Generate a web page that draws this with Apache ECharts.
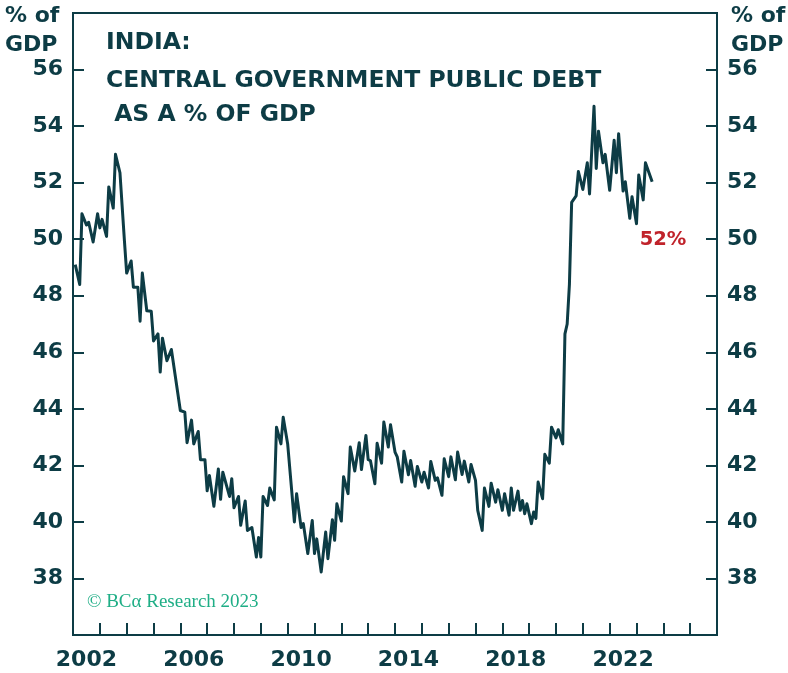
<!DOCTYPE html>
<html>
<head>
<meta charset="utf-8">
<script src="https://cdn.jsdelivr.net/npm/echarts@6/dist/echarts.min.js"></script>
<style>
html,body{margin:0;padding:0;background:#fff;}
#chart{width:788px;height:673px;}
</style>
</head>
<body>
<div id="chart"></div>
<script>
// Month of each observation (YYYY-MM)
const dates = [
'2002-02','2002-04','2002-05','2002-07','2002-08','2002-10','2002-12',
'2003-01','2003-02','2003-04','2003-05','2003-07','2003-08','2003-10','2003-12',
'2004-01','2004-03','2004-04','2004-06','2004-07','2004-08','2004-10','2004-12',
'2005-01','2005-03','2005-04','2005-05','2005-07','2005-09',
'2006-01','2006-03','2006-04','2006-06','2006-07','2006-09','2006-10','2006-12',
'2007-01','2007-02','2007-04','2007-06','2007-07','2007-08','2007-11','2007-12',
'2008-01','2008-03','2008-04','2008-06','2008-07','2008-09','2008-11','2008-12',
'2009-01','2009-02','2009-04','2009-05','2009-07','2009-08','2009-10','2009-11',
'2010-01','2010-04','2010-05','2010-07','2010-08','2010-10','2010-12',
'2011-01','2011-02','2011-04','2011-06','2011-07','2011-09','2011-10','2011-11',
'2012-01','2012-02','2012-04','2012-05','2012-07','2012-09','2012-10','2012-12',
'2013-01','2013-02','2013-04','2013-05','2013-07','2013-08','2013-10','2013-11',
'2014-01','2014-02','2014-04','2014-05','2014-07','2014-08','2014-10','2014-11',
'2015-01','2015-02','2015-04','2015-05','2015-07','2015-08','2015-10','2015-11',
'2016-01','2016-02','2016-04','2016-05','2016-07','2016-08','2016-10','2016-11',
'2017-01','2017-02','2017-04','2017-05','2017-07','2017-08','2017-10','2017-11',
'2018-01','2018-02','2018-04','2018-05','2018-06','2018-08','2018-09','2018-10','2018-11','2018-12',
'2019-02','2019-03','2019-04','2019-05','2019-07','2019-08','2019-10','2019-11',
'2020-01','2020-02','2020-04','2020-05','2020-06','2020-07','2020-08','2020-10','2020-11',
'2021-01','2021-03','2021-04','2021-06','2021-07','2021-08','2021-10','2021-11',
'2022-01','2022-03','2022-04','2022-05','2022-07','2022-08','2022-10','2022-11',
'2023-01','2023-02','2023-04','2023-05','2023-08'
];
// Central government public debt, % of GDP
const debt = [
49.1,48.4,50.9,50.5,50.6,49.9,50.9,
50.4,50.7,50.1,51.85,51.1,53.0,52.35,49.94,
48.8,49.23,48.3,48.3,47.1,48.8,47.47,47.45,
46.4,46.65,45.3,46.5,45.7,46.1,
43.94,43.88,42.8,43.6,42.76,43.2,42.2,42.2,
41.1,41.64,40.55,41.87,40.8,41.76,40.9,41.53,
40.5,40.9,39.88,40.74,39.7,39.8,38.76,39.45,
38.76,40.9,40.58,41.2,40.78,43.35,42.76,43.7,
42.76,40.0,41.0,39.8,39.94,38.88,40.05,
38.88,39.4,38.23,39.64,38.7,40.08,39.35,40.64,
40.03,41.6,41.0,42.65,41.8,42.8,41.85,43.06,
42.2,42.17,41.35,42.78,42.08,43.53,42.65,43.44,
42.47,42.3,41.41,42.5,41.67,42.17,41.26,41.96,
41.41,41.76,41.2,42.14,41.47,41.56,40.94,42.23,
41.6,42.3,41.49,42.47,41.68,42.15,41.41,42.03,
41.47,40.41,39.7,41.2,40.55,41.37,40.7,41.14,
40.41,41.0,40.24,41.2,40.41,41.09,40.41,40.76,40.29,40.64,
39.94,40.35,40.12,41.41,40.82,42.39,42.08,43.35,
42.97,43.26,42.76,46.65,47.0,48.4,51.3,51.53,52.39,
51.76,52.7,51.6,54.7,52.5,53.82,52.7,53.0,
51.73,53.5,52.35,53.73,51.7,52.03,50.74,51.5,
50.55,52.27,51.39,52.7,52.03
];
const yearLabels = [2002, 2006, 2010, 2014, 2018, 2022];
const yTickMin = 36, yTickMax = 58, yStep = 2;
const titleLines = ['INDIA:', 'CENTRAL GOVERNMENT PUBLIC DEBT', ' AS A % OF GDP'];
const lastLabel = '52%';

const toYear = s => +s.slice(0, 4) + (+s.slice(5, 7) - 1) / 12;
const seriesData = dates.map((d, i) => [toYear(d), debt[i]]);

const ink = '#0d3c45';
const axisFont = { color: ink, fontFamily: 'DejaVu Sans', fontWeight: 'bold', fontSize: 22 };
const yLab = v => (v === yTickMin || v === yTickMax) ? '' : String(v);

const chart = echarts.init(document.getElementById('chart'), null, { renderer: 'canvas' });
chart.setOption({
  animation: false,
  backgroundColor: '#ffffff',
  grid: { left: 73, right: 71, top: 13, bottom: 38, show: true, borderColor: ink, borderWidth: 2, backgroundColor: 'transparent' },
  xAxis: {
    type: 'value', min: 2002, max: 2026, interval: 1,
    axisLine: { show: true, lineStyle: { color: ink, width: 2 } },
    axisTick: { show: true, inside: true, length: 12, lineStyle: { color: ink, width: 2 } },
    axisLabel: Object.assign({ customValues: yearLabels.map(y => y + 0.5), formatter: v => String(Math.floor(v)), margin: 14 }, axisFont),
    splitLine: { show: false }
  },
  yAxis: [
    {
      type: 'value', min: yTickMin, max: yTickMax, interval: yStep, position: 'left',
      axisLine: { show: true, lineStyle: { color: ink, width: 2 } },
      axisTick: { show: true, inside: true, length: 11, lineStyle: { color: ink, width: 2 } },
      axisLabel: Object.assign({ formatter: yLab, margin: 10 }, axisFont),
      splitLine: { show: false }
    },
    {
      type: 'value', min: yTickMin, max: yTickMax, interval: yStep, position: 'right',
      axisLine: { show: true, lineStyle: { color: ink, width: 2 } },
      axisTick: { show: true, inside: true, length: 11, lineStyle: { color: ink, width: 2 } },
      axisLabel: Object.assign({ formatter: yLab, margin: 10 }, axisFont),
      splitLine: { show: false }
    }
  ],
  series: [{
    type: 'line', data: seriesData, showSymbol: false, symbol: 'none',
    lineStyle: { color: ink, width: 3, join: 'round' }
  }],
  graphic: [
    { type: 'text', left: 5, top: 2, style: { text: '% of\nGDP', fill: ink, font: 'bold 22px "DejaVu Sans"', lineHeight: 29, align: 'left' } },
    { type: 'text', left: 731, top: 2, style: { text: '% of\nGDP', fill: ink, font: 'bold 22px "DejaVu Sans"', lineHeight: 29, align: 'left' } },
    { type: 'text', x: 106, y: 43, style: { text: titleLines[0], fill: ink, font: 'bold 23.5px "DejaVu Sans"', verticalAlign: 'middle' } },
    { type: 'text', x: 106, y: 81, style: { text: titleLines[1], fill: ink, font: 'bold 23.5px "DejaVu Sans"', verticalAlign: 'middle' } },
    { type: 'text', x: 106, y: 115, style: { text: titleLines[2], fill: ink, font: 'bold 23.5px "DejaVu Sans"', verticalAlign: 'middle' } },
    { type: 'text', x: 663, y: 240, style: { text: lastLabel, fill: '#c0232b', font: 'bold 19.5px "DejaVu Sans"', align: 'center', verticalAlign: 'middle' } },
    { type: 'text', x: 87, y: 602, style: { text: '© BCα Research 2023', fill: '#1fae86', font: '19px "Liberation Serif"', verticalAlign: 'middle' } }
  ]
});
</script>
</body>
</html>
